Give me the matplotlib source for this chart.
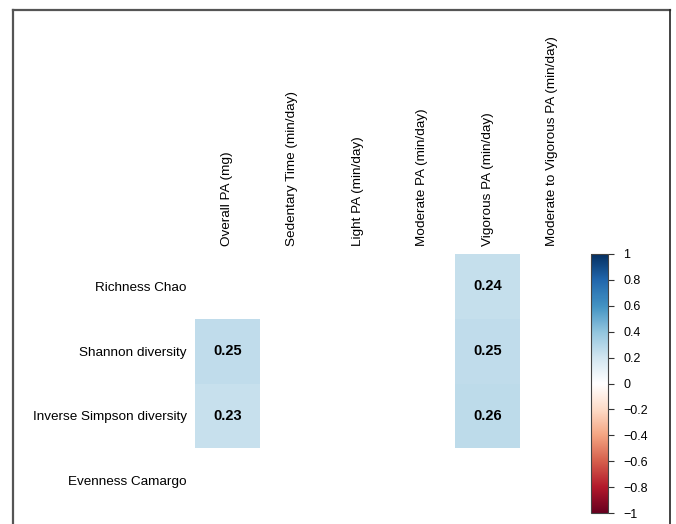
import numpy as np
import matplotlib
matplotlib.use("Agg")
import matplotlib.pyplot as plt
from matplotlib.colors import LinearSegmentedColormap
from matplotlib.lines import Line2D

plt.rcParams['font.family'] = ['Liberation Sans', 'DejaVu Sans']

# data: correlations, NaN = not significant (left blank)
pa_vars = ['Overall PA (mg)', 'Sedentary Time (min/day)', 'Light PA (min/day)',
           'Moderate PA (min/day)', 'Vigorous PA (min/day)',
           'Moderate to Vigorous PA (min/day)']
diversity = ['Richness Chao', 'Shannon diversity', 'Inverse Simpson diversity',
             'Evenness Camargo']
richness = [np.nan, np.nan, np.nan, np.nan, 0.24, np.nan]
shannon = [0.25, np.nan, np.nan, np.nan, 0.25, np.nan]
inv_simpson = [0.23, np.nan, np.nan, np.nan, 0.26, np.nan]
evenness = [np.nan, np.nan, np.nan, np.nan, np.nan, np.nan]
cbar_ticks = [-1, -0.8, -0.6, -0.4, -0.2, 0, 0.2, 0.4, 0.6, 0.8, 1]

# corrplot style RdBu palette
col2 = ["#67001F", "#B2182B", "#D6604D", "#F4A582", "#FDDBC7", "#FFFFFF",
        "#D1E5F0", "#92C5DE", "#4393C3", "#2166AC", "#053061"]
cmap = LinearSegmentedColormap.from_list('col2', col2)

corr = np.array([richness, shannon, inv_simpson, evenness])
masked = np.ma.masked_invalid(corr)

fig = plt.figure(figsize=(6.76, 5.24), dpi=100)
ax = fig.add_axes([195 / 676, 1 - 513 / 524, 390 / 676, 259 / 524])

mesh = ax.pcolormesh(masked, cmap=cmap, vmin=-1, vmax=1)
ax.set_xlim(0, len(pa_vars))
ax.set_ylim(len(diversity), 0)

for i in range(len(diversity)):
    for j in range(len(pa_vars)):
        if not np.isnan(corr[i, j]):
            ax.text(j + 0.5, i + 0.5, f'{corr[i, j]:.2f}', ha='center',
                    va='center', fontsize=10.5, fontweight='bold', color='black')

ax.xaxis.tick_top()
ax.set_xticks(np.arange(len(pa_vars)) + 0.5)
ax.set_xticklabels(pa_vars, rotation=90, fontsize=9.7)
ax.set_yticks(np.arange(len(diversity)) + 0.5)
ax.set_yticklabels(diversity, fontsize=9.7)
ax.tick_params(length=0, pad=6)
for s in ax.spines.values():
    s.set_visible(False)

# colour legend
cax = fig.add_axes([591 / 676, 1 - 513 / 524, 17 / 676, 259 / 524])
cb = fig.colorbar(mesh, cax=cax, ticks=cbar_ticks)
cb.ax.set_yticklabels(['\u22121' if t == -1 else ('1' if t == 1 else ('0' if t == 0 else f'{t:g}'.replace('-', '\u2212')))
                       for t in cbar_ticks], fontsize=9)
cb.ax.tick_params(length=4, width=0.8, color='#333333', pad=7)
cb.outline.set_edgecolor('#444444')
cb.outline.set_linewidth(0.8)

# frame around the plot (no bottom edge)
fc = '#555555'
fig.add_artist(Line2D([12.5 / 676, 12.5 / 676], [0, 1 - 9.5 / 524], color=fc, lw=1.6))
fig.add_artist(Line2D([12.5 / 676, 670 / 676], [1 - 9.5 / 524, 1 - 9.5 / 524], color=fc, lw=1.6))
fig.add_artist(Line2D([670 / 676, 670 / 676], [0, 1 - 9.5 / 524], color='#222222', lw=1.2))

fig.savefig('out.png', dpi=100, facecolor='white')
